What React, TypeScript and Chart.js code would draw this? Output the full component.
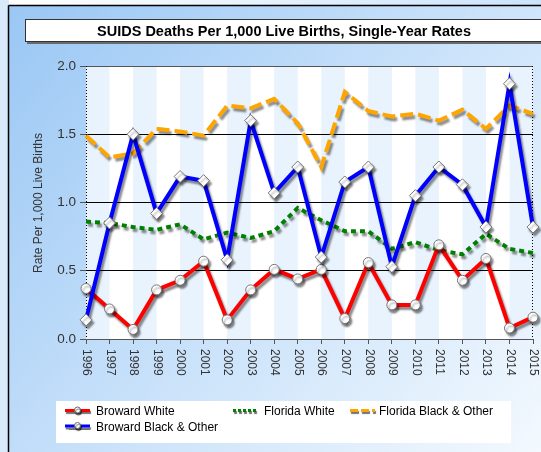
import React, { useEffect, useRef } from "react";
import { Chart, registerables } from "chart.js";

Chart.register(...registerables);

const W = 541;
const H = 452;
const FONT = '"Liberation Sans", Arial, sans-serif';

const TITLE = "SUIDS Deaths Per 1,000 Live Births, Single-Year Rates";
const Y_TITLE = "Rate Per 1,000 Live Births";

const years = [
  "1996", "1997", "1998", "1999", "2000", "2001", "2002", "2003", "2004", "2005",
  "2006", "2007", "2008", "2009", "2010", "2011", "2012", "2013", "2014", "2015",
];
const browardWhite = [0.37, 0.22, 0.07, 0.36, 0.43, 0.57, 0.14, 0.36, 0.51, 0.44, 0.51, 0.15, 0.56, 0.25, 0.25, 0.69, 0.43, 0.59, 0.08, 0.16];
const browardBlack = [0.14, 0.85, 1.5, 0.92, 1.19, 1.16, 0.58, 1.6, 1.07, 1.26, 0.6, 1.15, 1.26, 0.53, 1.05, 1.26, 1.13, 0.82, 1.87, 0.82];
const floridaWhite = [0.86, 0.85, 0.82, 0.8, 0.84, 0.73, 0.78, 0.74, 0.79, 0.96, 0.87, 0.79, 0.79, 0.66, 0.71, 0.65, 0.62, 0.77, 0.66, 0.63];
const floridaBlack = [1.49, 1.33, 1.36, 1.54, 1.52, 1.49, 1.71, 1.69, 1.76, 1.58, 1.26, 1.81, 1.67, 1.63, 1.65, 1.6, 1.68, 1.54, 1.71, 1.65];

const yTicks = [0, 0.5, 1.0, 1.5, 2.0];

const legendItems = [
  { label: "Broward White", color: "#ff0000", dash: [] as number[], marker: true, x: 65, y: 411.5 },
  { label: "Florida White", color: "#008000", dash: [3, 2], marker: false, x: 233, y: 411.5 },
  { label: "Florida Black & Other", color: "#ffa500", dash: [8, 3], marker: false, x: 350, y: 411.5 },
  { label: "Broward Black & Other", color: "#0000ff", dash: [] as number[], marker: true, x: 65, y: 427 },
];

function drawLegendItem(ctx: CanvasRenderingContext2D, it: any) {
  const x0 = it.x;
  const x1 = it.x + 25;
  ctx.save();
  ctx.shadowColor = "rgba(0,0,0,0.55)";
  ctx.shadowOffsetX = 1;
  ctx.shadowOffsetY = 2;
  ctx.shadowBlur = 1;
  ctx.strokeStyle = it.color;
  ctx.lineWidth = 3;
  ctx.setLineDash(it.dash);
  ctx.beginPath();
  ctx.moveTo(x0, it.y - 1);
  ctx.lineTo(x1, it.y - 1);
  ctx.stroke();
  ctx.setLineDash([]);
  if (it.marker) {
    ctx.fillStyle = "#ffffff";
    ctx.strokeStyle = "#666";
    ctx.lineWidth = 1;
    ctx.beginPath();
    ctx.arc((x0 + x1) / 2, it.y - 1.5, 3, 0, Math.PI * 2);
    ctx.fill();
    ctx.stroke();
  }
  ctx.restore();
  ctx.save();
  ctx.fillStyle = "#000";
  ctx.font = `12px ${FONT}`;
  ctx.textAlign = "left";
  ctx.textBaseline = "middle";
  ctx.fillText(it.label, x1 + (it.label.startsWith("Florida Black") ? 4 : 6), it.y + 0.5);
  ctx.restore();
}

const framePlugin = {
  id: "frame",
  beforeDraw(chart: any) {
    const { ctx, chartArea } = chart;
    const { left, top, right, bottom } = chartArea;
    const xs = chart.scales.x;
    ctx.save();
    ctx.fillStyle = "#d9ebfb";
    ctx.fillRect(0, 0, W, H);
    const gt = ctx.createLinearGradient(9, 0, W, 0);
    gt.addColorStop(0, "#ffffff");
    gt.addColorStop(1, "#cbe4fb");
    ctx.fillStyle = gt;
    ctx.fillRect(9, 0, W - 9, 5);
    const g = ctx.createLinearGradient(9, 6, W, H);
    g.addColorStop(0, "#9ac7f4");
    g.addColorStop(0.5, "#c8e1fa");
    g.addColorStop(1, "#f3f9fe");
    ctx.fillStyle = g;
    ctx.fillRect(9, 6, W - 9, H - 6);
    ctx.strokeStyle = "#000";
    ctx.lineWidth = 1.5;
    ctx.beginPath();
    ctx.moveTo(8.5, 5.5);
    ctx.lineTo(W, 5.5);
    ctx.moveTo(8.5, 5.5);
    ctx.lineTo(8.5, H);
    ctx.stroke();

    // title box
    ctx.fillStyle = "#6a6a6a";
    ctx.fillRect(27, 21, W, 23);
    ctx.fillStyle = "#ffffff";
    ctx.fillRect(25, 19, W, 23);
    ctx.strokeStyle = "#333";
    ctx.lineWidth = 1;
    ctx.strokeRect(25.5, 19.5, W, 22);
    ctx.fillStyle = "#000";
    ctx.font = `bold 14.5px ${FONT}`;
    ctx.textAlign = "center";
    ctx.textBaseline = "middle";
    ctx.fillText(TITLE, 284, 31.5);

    // legend box
    ctx.fillStyle = "#ffffff";
    ctx.fillRect(56, 401, 455, 42);
    legendItems.forEach((it) => drawLegendItem(ctx, it));

    // chart area with stripes
    ctx.fillStyle = "#ffffff";
    ctx.fillRect(left, top, right - left, bottom - top);
    ctx.fillStyle = "#e8f3fd";
    for (let i = 0; i < years.length - 1; i += 2) {
      const a = xs.getPixelForTick(i);
      const b = xs.getPixelForTick(i + 1);
      ctx.fillRect(a, top, b - a, bottom - top);
    }
    ctx.restore();
  },
  beforeDatasetsDraw(chart: any) {
    const { ctx, chartArea } = chart;
    const { left, top, right, bottom } = chartArea;
    ctx.save();
    ctx.strokeStyle = "#000";
    ctx.lineWidth = 1;
    ctx.setLineDash([1, 2]);
    ctx.beginPath();
    ctx.moveTo(Math.round(left) + 0.5, top);
    ctx.lineTo(Math.round(left) + 0.5, bottom);
    ctx.moveTo(Math.round(right) - 0.5, top);
    ctx.lineTo(Math.round(right) - 0.5, bottom);
    ctx.stroke();
    ctx.restore();
  },
  afterDraw(chart: any) {
    const { ctx, chartArea } = chart;
    const { bottom } = chartArea;
    const xs = chart.scales.x;
    ctx.save();
    ctx.fillStyle = "#333";
    ctx.font = `12px ${FONT}`;
    ctx.textAlign = "left";
    ctx.textBaseline = "middle";
    years.forEach((lab, i) => {
      const x = xs.getPixelForTick(i);
      ctx.save();
      ctx.translate(x + 0.5, bottom + 10);
      ctx.rotate(Math.PI / 2);
      ctx.fillText(lab, 0, 0);
      ctx.restore();
    });
    ctx.save();
    ctx.translate(39, 203);
    ctx.rotate(-Math.PI / 2);
    ctx.textAlign = "center";
    ctx.textBaseline = "middle";
    ctx.fillStyle = "#333";
    ctx.fillText(Y_TITLE, 0, 0);
    ctx.restore();
    ctx.restore();
  },
};

const shadowPlugin = {
  id: "lineShadow",
  beforeDatasetDraw(chart: any) {
    const ctx = chart.ctx;
    ctx.save();
    ctx.shadowColor = "rgba(0,0,0,0.45)";
    ctx.shadowBlur = 2;
    ctx.shadowOffsetX = 2;
    ctx.shadowOffsetY = 3;
  },
  afterDatasetDraw(chart: any) {
    chart.ctx.restore();
  },
};

export default function App() {
  const ref = useRef<HTMLCanvasElement | null>(null);
  useEffect(() => {
    if (!ref.current) return;
    const chart = new Chart(ref.current, {
      type: "line",
      data: {
        labels: years,
        datasets: [
          {
            label: "Florida Black & Other",
            data: floridaBlack,
            borderColor: "#ffa500",
            backgroundColor: "#ffa500",
            borderWidth: 4,
            borderDash: [13, 5],
            pointRadius: 0,
            tension: 0,
            clip: false as any,
            order: 4,
          },
          {
            label: "Florida White",
            data: floridaWhite,
            borderColor: "#008000",
            backgroundColor: "#008000",
            borderWidth: 4,
            borderDash: [5, 4],
            pointRadius: 0,
            tension: 0,
            clip: false as any,
            order: 3,
          },
          {
            label: "Broward White",
            data: browardWhite,
            borderColor: "#ff0000",
            backgroundColor: "#ffffff",
            borderWidth: 4,
            pointStyle: "circle",
            pointRadius: 5,
            pointBackgroundColor: "#ffffff",
            pointBorderColor: "#777",
            pointBorderWidth: 1,
            tension: 0,
            clip: false as any,
            order: 2,
          },
          {
            label: "Broward Black & Other",
            data: browardBlack,
            borderColor: "#0000ff",
            backgroundColor: "#ffffff",
            borderWidth: 4,
            pointStyle: "rectRot",
            pointRadius: 6,
            pointBackgroundColor: "#ffffff",
            pointBorderColor: "#777",
            pointBorderWidth: 1,
            tension: 0,
            clip: false as any,
            order: 1,
          },
        ],
      },
      options: {
        responsive: false,
        animation: false,
        devicePixelRatio: 1,
        layout: { padding: { top: 66, right: 8, bottom: 73, left: 46 } },
        plugins: {
          legend: { display: false },
          title: { display: false },
          tooltip: { enabled: false },
        },
        scales: {
          x: {
            type: "category",
            offset: false,
            afterFit: (s: any) => {
              s.height = 40;
            },
            ticks: { display: false, autoSkip: false },
            grid: {
              display: true,
              drawOnChartArea: false,
              drawTicks: true,
              tickLength: 5,
              tickColor: "#555",
            },
            border: { display: true, color: "#555", width: 1 },
          },
          y: {
            min: 0,
            max: 2,
            afterFit: (s: any) => {
              s.width = 40;
            },
            afterBuildTicks: (s: any) => {
              s.ticks = yTicks.map((v) => ({ value: v }));
            },
            ticks: {
              color: "#333",
              font: { family: FONT, size: 13.5 },
              padding: 4,
              callback: (v: any) => Number(v).toFixed(1),
            },
            grid: {
              display: true,
              drawTicks: true,
              tickLength: 6,
              tickColor: "#555",
              color: (c: any) => (c.tick && (c.tick.value === 0 || c.tick.value === 2) ? "#555" : "#000"),
              lineWidth: 1,
            },
            border: { display: false },
          },
        },
      },
      plugins: [framePlugin, shadowPlugin],
    } as any);
    return () => chart.destroy();
  }, []);
  return (
    <div style={{ position: "fixed", left: 0, top: 0, width: W, height: H }}>
      <canvas ref={ref} width={W} height={H} style={{ display: "block", width: W, height: H }} />
    </div>
  );
}
